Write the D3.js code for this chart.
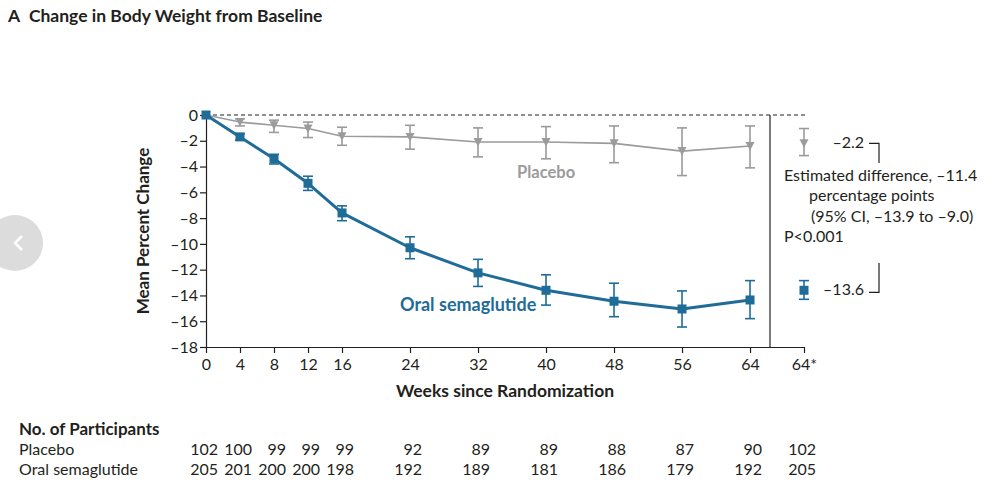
<!DOCTYPE html>
<html>
<head>
<meta charset="utf-8">
<style>
  body { margin: 0; background: #fff; }
  svg { font-family: Lato, "Open Sans", sans-serif; }
</style>
</head>
<body>
<svg width="1005" height="495"></svg>
<script src="https://d3js.org/d3.v7.min.js"></script>
<script>

// data
var weeks = [0, 4, 8, 12, 16, 24, 32, 40, 48, 56, 64];
var placeboMean = [0, -0.55, -0.8, -1.05, -1.65, -1.7, -2.1, -2.1, -2.2, -2.8, -2.4];
var placeboLo   = [0, -0.85, -1.35, -1.75, -2.35, -2.65, -3.25, -3.4, -3.7, -4.7, -4.1];
var placeboHi   = [0, -0.3, -0.4, -0.55, -0.95, -0.8, -1.0, -0.9, -0.85, -1.0, -0.85];
var semaMean = [0, -1.7, -3.4, -5.3, -7.6, -10.3, -12.25, -13.6, -14.45, -15.05, -14.35];
var semaLo   = [0, -1.95, -3.8, -5.85, -8.2, -11.15, -13.3, -14.75, -15.65, -16.45, -15.8];
var semaHi   = [0, -1.45, -3.05, -4.75, -7.05, -9.45, -11.2, -12.4, -13.05, -13.65, -12.85];

// estimated values shown right of the divider (64*)
var estPlacebo = {mean: -2.2, lo: -3.15, hi: -1.05};
var estSema = {mean: -13.6, lo: -14.3, hi: -12.85};

var yTicks = [0, -2, -4, -6, -8, -10, -12, -14, -16, -18];
var nPlacebo = [102, 100, 99, 99, 99, 92, 89, 89, 88, 87, 90, 102];
var nSema    = [205, 201, 200, 200, 198, 192, 189, 181, 186, 179, 192, 205];

var estWeek = 70.35;   // where the 64* column sits
var divWeek = 66.35;   // vertical divider

var blue = "#1f6c98", grey = "#9b9b9b", ink = "#231f20";

var svg = d3.select("svg");

var x = d3.scaleLinear().domain([0, estWeek]).range([206, 804]);
var y = d3.scaleLinear().domain([0, -18]).range([115, 347]);

// carousel button remnant at left edge
svg.append("circle").attr("cx", 15).attr("cy", 243).attr("r", 28).attr("fill", "#dcdcdc");
svg.append("path").attr("d", "M22,236 L15,243 L22,250").attr("fill", "none")
  .attr("stroke", "#fff").attr("stroke-width", 2.5);

// title
svg.append("text").attr("x", 8).attr("y", 22)
  .attr("font-size", 17.5).attr("font-weight", 700).attr("fill", ink)
  .text("A\u2002Change in Body Weight from Baseline");

// axes
var xTickVals = weeks.concat([estWeek]);
var xAxis = d3.axisBottom(x).tickValues(xTickVals).tickSize(6).tickSizeOuter(0)
  .tickFormat(function(d) { return d === estWeek ? "64*" : d; });
var gx = svg.append("g").attr("transform", "translate(0," + y(-18) + ")").call(xAxis);
gx.select(".domain").attr("stroke", ink).attr("stroke-width", 1.2);
gx.selectAll(".tick line").attr("stroke", ink).attr("stroke-width", 1.2);
gx.selectAll(".tick text").attr("font-size", 16).attr("fill", ink).attr("dy", "0.85em")
  .attr("font-family", "Lato, sans-serif");

var yAxis = d3.axisLeft(y).tickValues(yTicks).tickSize(6).tickSizeOuter(0)
  .tickFormat(function(d) { return d === 0 ? "0" : "\u2013" + Math.abs(d); });
var gy = svg.append("g").attr("transform", "translate(" + x(0) + ",0)").call(yAxis);
gy.select(".domain").attr("stroke", ink).attr("stroke-width", 1.2);
gy.selectAll(".tick line").attr("stroke", ink).attr("stroke-width", 1.2);
gy.selectAll(".tick text").attr("font-size", 16).attr("fill", ink).attr("x", -8)
  .attr("font-family", "Lato, sans-serif");

// axis titles
svg.append("text").attr("transform", "translate(149," + y(-9) + ") rotate(-90)")
  .attr("text-anchor", "middle").attr("font-size", 17).attr("font-weight", 700).attr("fill", ink)
  .text("Mean Percent Change");
svg.append("text").attr("x", 505).attr("y", 397).attr("text-anchor", "middle")
  .attr("font-size", 17.5).attr("font-weight", 700).attr("fill", ink)
  .text("Weeks since Randomization");

// zero reference line and divider
svg.append("line").attr("x1", x(0)).attr("x2", x(estWeek) + 4).attr("y1", y(0)).attr("y2", y(0))
  .attr("stroke", ink).attr("stroke-width", 1.2).attr("stroke-dasharray", "4,3");
svg.append("line").attr("x1", x(divWeek)).attr("x2", x(divWeek)).attr("y1", y(0)).attr("y2", y(-18))
  .attr("stroke", ink).attr("stroke-width", 1.2);

function drawSeries(mean, lo, hi, color, lw, markerFn) {
  var pts = weeks.map(function(w, i) { return {w: w, m: mean[i], lo: lo[i], hi: hi[i]}; });
  var line = d3.line().x(function(d) { return x(d.w); }).y(function(d) { return y(d.m); });
  svg.append("path").datum(pts).attr("d", line).attr("fill", "none")
    .attr("stroke", color).attr("stroke-width", lw).attr("stroke-linejoin", "round");
  var eb = svg.append("g").attr("stroke", color).attr("stroke-width", 1.6);
  pts.filter(function(d) { return d.w > 0; }).forEach(function(d) {
    drawErr(eb, d.w, d.lo, d.hi);
  });
  pts.forEach(function(d) { markerFn(d.w, d.m); });
}

function drawErr(g, w, lo, hi) {
  var cx = x(w);
  g.append("line").attr("x1", cx).attr("x2", cx).attr("y1", y(lo)).attr("y2", y(hi));
  g.append("line").attr("x1", cx - 5).attr("x2", cx + 5).attr("y1", y(lo)).attr("y2", y(lo));
  g.append("line").attr("x1", cx - 5).attr("x2", cx + 5).attr("y1", y(hi)).attr("y2", y(hi));
}

function triangle(w, v) {
  var cx = x(w), cy = y(v);
  svg.append("path").attr("d", "M" + (cx - 4.5) + "," + (cy - 4) + "L" + (cx + 4.5) + "," + (cy - 4) + "L" + cx + "," + (cy + 4.5) + "Z")
    .attr("fill", grey);
}
function square(w, v) {
  svg.append("rect").attr("x", x(w) - 4.5).attr("y", y(v) - 4.5).attr("width", 9).attr("height", 9)
    .attr("fill", blue);
}

drawSeries(placeboMean, placeboLo, placeboHi, grey, 1.6, triangle);
drawSeries(semaMean, semaLo, semaHi, blue, 3, square);

// estimated values at 64*
var ebP = svg.append("g").attr("stroke", grey).attr("stroke-width", 1.6);
drawErr(ebP, estWeek, estPlacebo.lo, estPlacebo.hi);
triangle(estWeek, estPlacebo.mean);
var ebS = svg.append("g").attr("stroke", blue).attr("stroke-width", 1.6);
drawErr(ebS, estWeek, estSema.lo, estSema.hi);
square(estWeek, estSema.mean);

// series labels
svg.append("text").attr("x", 517).attr("y", 178).attr("font-size", 16.5).attr("font-weight", 700)
  .attr("fill", grey).text("Placebo");
svg.append("text").attr("x", 400).attr("y", 311).attr("font-size", 18).attr("font-weight", 700)
  .attr("fill", blue).text("Oral semaglutide");

// annotation
var ann = svg.append("g").attr("fill", ink).attr("font-size", 16);
ann.append("text").attr("x", 864).attr("y", y(estPlacebo.mean) + 5).attr("text-anchor", "end")
  .text("\u20132.2");
ann.append("text").attr("x", 864).attr("y", y(estSema.mean) + 5).attr("text-anchor", "end")
  .text("\u201313.6");
ann.append("path").attr("d", "M869," + y(-2.2) + "H879V163").attr("fill", "none").attr("stroke", ink).attr("stroke-width", 1.2);
ann.append("path").attr("d", "M869," + (y(-13.6) + 2) + "H879V263").attr("fill", "none").attr("stroke", ink).attr("stroke-width", 1.2);
ann.append("text").attr("x", 784).attr("y", 181).text("Estimated difference, \u201311.4");
ann.append("text").attr("x", 809).attr("y", 201).text("percentage points");
ann.append("text").attr("x", 811).attr("y", 222).text("(95% CI, \u201313.9 to \u20139.0)");
ann.append("text").attr("x", 784).attr("y", 242).text("P<0.001");

// participants table
var tbl = svg.append("g").attr("fill", ink).attr("font-size", 16);
tbl.append("text").attr("x", 19).attr("y", 435).attr("font-weight", 700).attr("font-size", 17).text("No. of Participants");
tbl.append("text").attr("x", 19).attr("y", 455).text("Placebo");
tbl.append("text").attr("x", 19).attr("y", 475).text("Oral semaglutide");
xTickVals.forEach(function(w, i) {
  tbl.append("text").attr("x", x(w) + 12).attr("y", 455).attr("text-anchor", "end").text(nPlacebo[i]);
  tbl.append("text").attr("x", x(w) + 12).attr("y", 475).attr("text-anchor", "end").text(nSema[i]);
});

</script>
</body>
</html>
